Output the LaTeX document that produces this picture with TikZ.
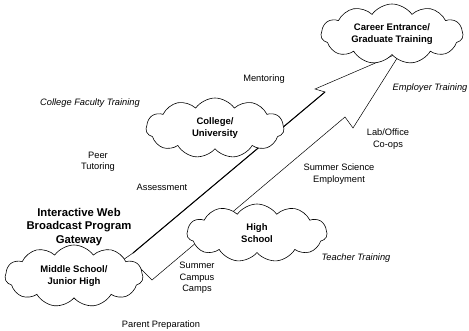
\documentclass[tikz,border=0pt]{standalone}
\usepackage{fontspec}
\setmainfont{Liberation Sans}
\usetikzlibrary{shapes.symbols}
\begin{document}
\begin{tikzpicture}[x=1pt,y=-1pt,
  cloudbox/.style={cloud, cloud puffs=11, cloud puff arc=110, cloud ignores aspect, draw=black, line width=0.6pt, fill=white, inner sep=0pt, align=center, font=\fontsize{9.5}{12}\selectfont\bfseries},
  lbl/.style={align=center, inner sep=0pt, font=\fontsize{9.3}{11.5}\selectfont},
  ilbl/.style={lbl, font=\fontsize{9.3}{11.5}\selectfont\itshape},
  title/.style={align=center, inner sep=0pt, font=\fontsize{11.3}{13.5}\selectfont\bfseries}]
\useasboundingbox (0,0) rectangle (469,330);
% big arrow
\coordinate (tailU) at (133,253);
\coordinate (notchU) at (325,92);
\coordinate (barbU) at (315,89);
\coordinate (tip) at (401,52);
\coordinate (barbL) at (353,128);
\coordinate (notchL) at (345,117);
\coordinate (tailL) at (152,280);
\coordinate (tailE) at (140,268);
\draw[fill=white, line width=0.5pt, line join=miter] (tailU) -- (notchU) -- (barbU) -- (tip) -- (barbL) -- (notchL) -- (tailL) -- (tailE) -- (120,262) -- cycle;
\draw[line width=1pt] (tailU) -- (notchU);
% clouds
\node[cloudbox, minimum width=142pt, minimum height=60pt] (career) at (392,34) {Career Entrance/\\Graduate Training};
\node[cloudbox, minimum width=138pt, minimum height=60pt] (college) at (215,128) {College/\\University};
\node[cloudbox, minimum width=140pt, minimum height=58pt] (high) at (257,233) {High\\School};
\node[cloudbox, minimum width=138pt, minimum height=62pt] (middle) at (74,276) {Middle School/\\Junior High};
% labels
\node[title] (gateway) at (79,227) {Interactive Web\\Broadcast Program\\Gateway};
\node[lbl] (parent) at (161,325) {Parent Preparation};
\node[lbl] (camps) at (197,278) {Summer\\Campus\\Camps};
\node[lbl] (assess) at (162,187) {Assessment};
\node[lbl] (peer) at (98,162) {Peer\\Tutoring};
\node[ilbl] (cft) at (90,103) {College Faculty Training};
\node[lbl] (mentor) at (264,79) {Mentoring};
\node[ilbl] (employer) at (430,88) {Employer Training};
\node[lbl] (lab) at (388,139) {Lab/Office\\Co-ops};
\node[lbl] (science) at (339,174) {Summer Science\\Employment};
\node[ilbl] (teacher) at (356,258) {Teacher Training};
\end{tikzpicture}
\end{document}
